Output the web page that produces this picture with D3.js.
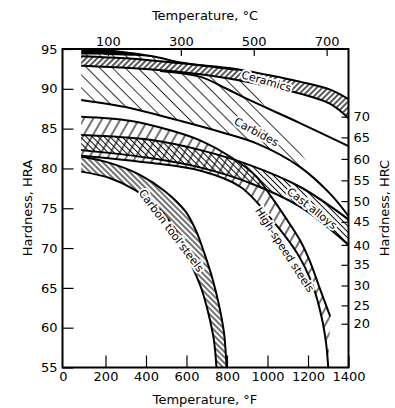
<!DOCTYPE html>
<html><head><meta charset="utf-8">
<script src="https://cdn.jsdelivr.net/npm/d3@7"></script>
<style>
body{margin:0;background:#fff}
text{font-family:"DejaVu Sans",sans-serif;fill:#000}
</style>
</head><body>
<svg id="c" width="395" height="408"></svg>
<script>
// ---------- data ----------
const fTicks = [0,200,400,600,800,1000,1200,1400];
const cTicks = [100,300,500,700];
const hraTicks = [55,60,65,70,75,80,85,90,95];
const hrcTicks = [70,65,60,55,50,45,40,35,30,25,20];
const hrcAsHra = [86.5,83.9,81.2,78.5,75.9,73.3,70.4,67.9,65.3,62.8,60.5];

// curves: [temperature °F, hardness HRA]
const wedgeUpper    = [[80,95],[200,94.85],[320,94.5],[450,94.0]];
const wedgeLower    = [[80,94.3],[200,94.25],[320,94.15],[450,94.0]];
const carbidesUpper = [[80,95],[200,94.85],[320,94.5],[450,94.0],[570,93.3],[700,92.85],[850,92.4]];
const ceramicsTop   = [[80,94.1],[320,93.8],[570,93.2],[810,92.6],[1010,91.7],[1160,90.9],[1310,89.9],[1400,88.7]];
const ceramicsBot   = [[80,92.9],[320,92.6],[570,92.1],[810,91.3],[1010,90.3],[1160,89.4],[1310,88.1],[1400,86.3]];
const carbidesMid   = [[470,92.25],[670,91.5],[790,90.1],[910,88.6],[1160,85.7],[1400,82.8]];
const carbidesLower = [[80,88.6],[320,87.6],[550,86.1],[765,84.6],[960,83.0],[1160,80.2],[1310,76.8],[1400,74.0]];
const castTop       = [[80,84.2],[420,83.6],[670,82.3],[910,80.45],[1160,77.7],[1400,73.6]];
const castBot       = [[80,82.3],[420,81.3],[670,80.1],[910,78.2],[1160,75.2],[1400,70.4]];
const hssOuter      = [[80,86.5],[320,86.0],[520,84.8],[670,83.5],[815,81.5],[940,79.1],[1020,76.4],[1095,73.6],[1160,71.0],[1210,68.3],[1260,64.8],[1310,61.4]];
const hssInner      = [[80,81.6],[420,80.7],[670,79.7],[865,77.7],[1020,73.6],[1145,69.4],[1225,65.2],[1270,61.0],[1290,57.9],[1300,55]];
const ctsOuter      = [[80,81.5],[220,80.7],[370,79.2],[495,77.1],[595,74.6],[650,72.0],[690,69.2],[730,66.0],[760,62.9],[785,59.4],[798,55]];
const ctsInner      = [[80,79.6],[220,78.8],[345,77.3],[445,75.4],[520,73.3],[580,70.7],[625,67.9],[675,64.8],[710,61.6],[735,58.5],[748,55]];

const labels = [
  {t:"Ceramics", F:995, H:90.95, r:16},
  {t:"Carbides", F:945, H:84.6, r:28},
  {t:"Cast alloys", F:1220, H:75.0, r:38},
  {t:"High-speed steels", F:1085, H:69.8, r:57},
  {t:"Carbon tool steels", F:525, H:72.2, r:53}
];

// ---------- scales ----------
const L=62.5, R=348.5, T=49, B=367.5;
const x = d3.scaleLinear().domain([0,1400]).range([65,R]);
const xc = d3.scaleLinear().domain([(0-32)/1.8,(1400-32)/1.8]).range([65,R]);
const y = d3.scaleLinear().domain([55,95]).range([B,T]);
const yc = d3.scaleLinear().domain(hrcTicks).range(hrcAsHra.map(v=>y(v)));

const svg = d3.select("#c");
const defs = svg.append("defs");
function hatch(id, angle, sp, sw){
  const p = defs.append("pattern").attr("id",id).attr("patternUnits","userSpaceOnUse")
    .attr("width",sp).attr("height",sp).attr("patternTransform",`rotate(${angle})`);
  p.append("line").attr("x1",sp/2).attr("y1",-1).attr("x2",sp/2).attr("y2",sp+1)
    .attr("stroke","#000").attr("stroke-width",sw);
}
hatch("hCer", 45, 4, 1.3);
hatch("hCarb", -45, 9, 0.8);
hatch("hCast", -45, 4.2, 1.0);
hatch("hHss", 30, 8, 1.1);
hatch("hCts", -45, 4, 1.1);

defs.append("clipPath").attr("id","clip").append("rect")
  .attr("x",L).attr("y",T).attr("width",R-L).attr("height",B-T);

const g = svg.append("g").attr("clip-path","url(#clip)");
const line = d3.line().x(d=>x(d[0])).y(d=>y(d[1])).curve(d3.curveCatmullRom.alpha(0.5));
function band(up, lo){
  return line(up) + "L" + line(lo.slice().reverse()).slice(1) + "Z";
}

g.append("path").attr("d",band(carbidesUpper, carbidesLower)).attr("fill","url(#hCarb)");
g.append("path").attr("d",band(ceramicsTop, ceramicsBot)).attr("fill","#fff");
g.append("path").attr("d",band(ceramicsTop, ceramicsBot)).attr("fill","url(#hCer)");
g.append("path").attr("d",band(wedgeUpper, wedgeLower)).attr("fill","#000");
g.append("path").attr("d",band(hssOuter, hssInner)).attr("fill","url(#hHss)");
g.append("path").attr("d",band(castTop, castBot)).attr("fill","url(#hCast)");
g.append("path").attr("d",band(ctsOuter, ctsInner)).attr("fill","url(#hCts)");

[carbidesUpper, ceramicsTop, ceramicsBot, carbidesMid, carbidesLower, castTop, castBot,
 hssOuter, hssInner, ctsOuter, ctsInner].forEach(c=>{
  g.append("path").attr("d",line(c)).attr("fill","none").attr("stroke","#000").attr("stroke-width",2);
});

labels.forEach(l=>{
  g.append("text").attr("transform",`translate(${x(l.F)},${y(l.H)}) rotate(${l.r})`)
    .attr("text-anchor","middle").attr("dy","0.35em").style("font-size","11px")
    .attr("stroke","#fff").attr("stroke-width",4).attr("paint-order","stroke")
    .text(l.t);
});

// ---------- axes ----------
const fmt = d3.format("d");
const axL = svg.append("g").attr("transform",`translate(${L},0)`)
  .call(d3.axisLeft(y).tickValues(hraTicks).tickFormat(fmt).tickSize(-11).tickPadding(5));
const axB = svg.append("g").attr("transform",`translate(0,${B})`)
  .call(d3.axisBottom(x).tickValues(fTicks).tickFormat(fmt).tickSize(-12).tickPadding(4));
axB.selectAll(".tick").filter(d=>d===0).select("line").remove();
axB.selectAll(".tick").filter(d=>d===0).attr("transform",`translate(${L+1},0)`);
const axT = svg.append("g").attr("transform",`translate(0,${T})`)
  .call(d3.axisTop(xc).tickValues(cTicks).tickFormat(fmt).tickSize(-7).tickPadding(3));
const axR = svg.append("g").attr("transform",`translate(${R},0)`)
  .call(d3.axisRight(yc).tickValues(hrcTicks).tickFormat(fmt).tickSize(-7).tickPadding(5));
[axL,axB,axT,axR].forEach(a=>{
  a.select(".domain").remove();
  a.selectAll("text").style("font-size","13px").attr("fill","#000").style("font-family","DejaVu Sans");
  a.selectAll("line").attr("stroke","#000").attr("stroke-width",1.2);
});

svg.append("rect").attr("x",L).attr("y",T).attr("width",R-L).attr("height",B-T)
  .attr("fill","none").attr("stroke","#000").attr("stroke-width",2);

svg.append("text").attr("x",205).attr("y",20).attr("text-anchor","middle").style("font-size","13px").text("Temperature, °C");
svg.append("text").attr("x",205).attr("y",404).attr("text-anchor","middle").style("font-size","13px").text("Temperature, °F");
svg.append("text").attr("transform",`translate(32,208) rotate(-90)`).attr("text-anchor","middle").style("font-size","13px").text("Hardness, HRA");
svg.append("text").attr("transform",`translate(389,208) rotate(-90)`).attr("text-anchor","middle").style("font-size","13px").text("Hardness, HRC");
</script>
</body></html>
